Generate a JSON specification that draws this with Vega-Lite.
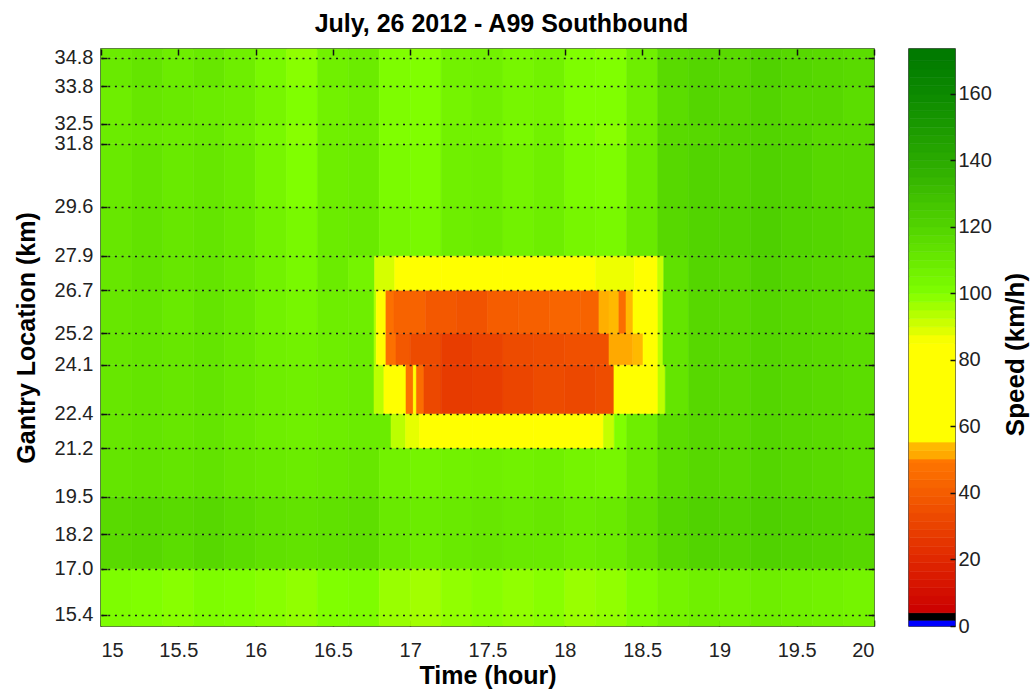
{
  "$schema": "https://vega.github.io/schema/vega-lite/v6.json",
  "padding": {"left": 13, "top": 10, "right": 5, "bottom": 5},
  "background": "white",
  "config": {
    "font": "Liberation Sans",
    "view": {"stroke": "#222222", "strokeWidth": 1.5},
    "axis": {
      "labelFont": "Liberation Sans", "labelFontSize": 20, "labelColor": "#222222",
      "titleFont": "Liberation Sans", "titleFontSize": 25, "titleFontWeight": "bold", "titleColor": "#000000",
      "domain": false, "tickColor": "#111111", "tickWidth": 1.5, "grid": false
    },
    "concat": {"spacing": 31}
  },
  "datasets": {
    "bands": [
      {"b": 1, "lo": 15.0, "hi": 17.0}, {"b": 2, "lo": 17.0, "hi": 18.2}, {"b": 3, "lo": 18.2, "hi": 19.5},
      {"b": 4, "lo": 19.5, "hi": 21.2}, {"b": 5, "lo": 21.2, "hi": 22.4}, {"b": 6, "lo": 22.4, "hi": 24.1},
      {"b": 7, "lo": 24.1, "hi": 25.2}, {"b": 8, "lo": 25.2, "hi": 26.7}, {"b": 9, "lo": 26.7, "hi": 27.9},
      {"b": 10, "lo": 27.9, "hi": 29.6}, {"b": 11, "lo": 29.6, "hi": 31.8}, {"b": 12, "lo": 31.8, "hi": 32.5},
      {"b": 13, "lo": 32.5, "hi": 33.8}, {"b": 14, "lo": 33.8, "hi": 34.8}, {"b": 15, "lo": 34.8, "hi": 35.1}
    ],
    "bar": [
      {"s0": 0, "s1": 1.7, "v": 0.8}, {"s0": 1.7, "s1": 4, "v": 2.8},
      {"s0": 4, "s1": 6.5, "v": 5}, {"s0": 6.5, "s1": 9, "v": 7.5}, {"s0": 9, "s1": 11.5, "v": 10},
      {"s0": 11.5, "s1": 14, "v": 12.5}, {"s0": 14, "s1": 16.5, "v": 15}, {"s0": 16.5, "s1": 19, "v": 17.5},
      {"s0": 19, "s1": 21.5, "v": 20}, {"s0": 21.5, "s1": 24, "v": 22.5}, {"s0": 24, "s1": 26.5, "v": 25},
      {"s0": 26.5, "s1": 29, "v": 27.5}, {"s0": 29, "s1": 31.5, "v": 30}, {"s0": 31.5, "s1": 34, "v": 32.5},
      {"s0": 34, "s1": 36.5, "v": 35}, {"s0": 36.5, "s1": 39, "v": 37.5}, {"s0": 39, "s1": 41.5, "v": 40},
      {"s0": 41.5, "s1": 44, "v": 42.5}, {"s0": 44, "s1": 46.5, "v": 45}, {"s0": 46.5, "s1": 49, "v": 47.5},
      {"s0": 49, "s1": 50.2, "v": 49.8}, {"s0": 50.2, "s1": 52.8, "v": 51}, {"s0": 52.8, "s1": 55.3, "v": 54},
      {"s0": 55.3, "s1": 85, "v": 70}, {"s0": 85, "s1": 87.5, "v": 86}, {"s0": 87.5, "s1": 90, "v": 88.75},
      {"s0": 90, "s1": 92.5, "v": 91.25}, {"s0": 92.5, "s1": 95, "v": 93.75}, {"s0": 95, "s1": 97.5, "v": 96.25},
      {"s0": 97.5, "s1": 100, "v": 98.75}, {"s0": 100, "s1": 102.5, "v": 101.25}, {"s0": 102.5, "s1": 105, "v": 103.75},
      {"s0": 105, "s1": 107.5, "v": 106.25}, {"s0": 107.5, "s1": 110, "v": 108.75}, {"s0": 110, "s1": 112.5, "v": 111.25},
      {"s0": 112.5, "s1": 115, "v": 113.75}, {"s0": 115, "s1": 117.5, "v": 116.25}, {"s0": 117.5, "s1": 120, "v": 118.75},
      {"s0": 120, "s1": 122.5, "v": 121.25}, {"s0": 122.5, "s1": 125, "v": 123.75}, {"s0": 125, "s1": 127.5, "v": 126.25},
      {"s0": 127.5, "s1": 130, "v": 128.75}, {"s0": 130, "s1": 132.5, "v": 131.25}, {"s0": 132.5, "s1": 135, "v": 133.75},
      {"s0": 135, "s1": 137.5, "v": 136.25}, {"s0": 137.5, "s1": 140, "v": 138.75}, {"s0": 140, "s1": 142.5, "v": 141.25},
      {"s0": 142.5, "s1": 145, "v": 143.75}, {"s0": 145, "s1": 147.5, "v": 146.25}, {"s0": 147.5, "s1": 150, "v": 148.75},
      {"s0": 150, "s1": 152.5, "v": 151.25}, {"s0": 152.5, "s1": 155, "v": 153.75}, {"s0": 155, "s1": 157.5, "v": 156.25},
      {"s0": 157.5, "s1": 160, "v": 158.75}, {"s0": 160, "s1": 162.5, "v": 161.25}, {"s0": 162.5, "s1": 165, "v": 163.75},
      {"s0": 165, "s1": 167.5, "v": 166.25}, {"s0": 167.5, "s1": 170, "v": 168.75}, {"s0": 170, "s1": 173.5, "v": 172}
    ],
    "speed": [
      {"b":1,"t":15,"u":15.2,"v":101},{"b":1,"t":15.2,"u":15.4,"v":100},{"b":1,"t":15.4,"u":15.6,"v":99},{"b":1,"t":15.6,"u":15.8,"v":101},{"b":1,"t":15.8,"u":16,"v":100},
      {"b":1,"t":16,"u":16.2,"v":99},{"b":1,"t":16.2,"u":16.4,"v":98},{"b":1,"t":16.4,"u":16.6,"v":100},{"b":1,"t":16.6,"u":16.8,"v":101},{"b":1,"t":16.8,"u":17,"v":97},
      {"b":1,"t":17,"u":17.2,"v":96},{"b":1,"t":17.2,"u":17.4,"v":98},{"b":1,"t":17.4,"u":17.6,"v":99},{"b":1,"t":17.6,"u":17.8,"v":98},{"b":1,"t":17.8,"u":18,"v":99},
      {"b":1,"t":18,"u":18.2,"v":97},{"b":1,"t":18.2,"u":18.4,"v":98},{"b":1,"t":18.4,"u":18.6,"v":101},{"b":1,"t":18.6,"u":18.8,"v":105},{"b":1,"t":18.8,"u":19,"v":107},
      {"b":1,"t":19,"u":19.2,"v":106},{"b":1,"t":19.2,"u":19.4,"v":108},{"b":1,"t":19.4,"u":19.6,"v":107},{"b":1,"t":19.6,"u":19.8,"v":106},{"b":1,"t":19.8,"u":20,"v":105},

      {"b":2,"t":15,"u":15.2,"v":117},{"b":2,"t":15.2,"u":15.4,"v":118},{"b":2,"t":15.4,"u":15.6,"v":116},{"b":2,"t":15.6,"u":15.8,"v":118},{"b":2,"t":15.8,"u":16,"v":116},
      {"b":2,"t":16,"u":16.2,"v":114},{"b":2,"t":16.2,"u":16.4,"v":113},{"b":2,"t":16.4,"u":16.6,"v":114},{"b":2,"t":16.6,"u":16.8,"v":115},{"b":2,"t":16.8,"u":17,"v":110},
      {"b":2,"t":17,"u":17.2,"v":108},{"b":2,"t":17.2,"u":17.4,"v":110},{"b":2,"t":17.4,"u":17.6,"v":111},{"b":2,"t":17.6,"u":17.8,"v":110},{"b":2,"t":17.8,"u":18,"v":110},
      {"b":2,"t":18,"u":18.2,"v":108},{"b":2,"t":18.2,"u":18.4,"v":109},{"b":2,"t":18.4,"u":18.6,"v":113},{"b":2,"t":18.6,"u":18.8,"v":118},{"b":2,"t":18.8,"u":19,"v":120},
      {"b":2,"t":19,"u":19.2,"v":119},{"b":2,"t":19.2,"u":19.4,"v":121},{"b":2,"t":19.4,"u":19.6,"v":120},{"b":2,"t":19.6,"u":19.8,"v":119},{"b":2,"t":19.8,"u":20,"v":118},

      {"b":3,"t":15,"u":15.2,"v":117},{"b":3,"t":15.2,"u":15.4,"v":118},{"b":3,"t":15.4,"u":15.6,"v":117},{"b":3,"t":15.6,"u":15.8,"v":118},{"b":3,"t":15.8,"u":16,"v":116},
      {"b":3,"t":16,"u":16.2,"v":114},{"b":3,"t":16.2,"u":16.4,"v":113},{"b":3,"t":16.4,"u":16.6,"v":114},{"b":3,"t":16.6,"u":16.8,"v":115},{"b":3,"t":16.8,"u":17,"v":110},
      {"b":3,"t":17,"u":17.2,"v":109},{"b":3,"t":17.2,"u":17.4,"v":110},{"b":3,"t":17.4,"u":17.6,"v":111},{"b":3,"t":17.6,"u":17.8,"v":110},{"b":3,"t":17.8,"u":18,"v":111},
      {"b":3,"t":18,"u":18.2,"v":109},{"b":3,"t":18.2,"u":18.4,"v":110},{"b":3,"t":18.4,"u":18.6,"v":114},{"b":3,"t":18.6,"u":18.8,"v":119},{"b":3,"t":18.8,"u":19,"v":121},
      {"b":3,"t":19,"u":19.2,"v":120},{"b":3,"t":19.2,"u":19.4,"v":122},{"b":3,"t":19.4,"u":19.6,"v":121},{"b":3,"t":19.6,"u":19.8,"v":120},{"b":3,"t":19.8,"u":20,"v":119},

      {"b":4,"t":15,"u":15.2,"v":112},{"b":4,"t":15.2,"u":15.4,"v":113},{"b":4,"t":15.4,"u":15.6,"v":112},{"b":4,"t":15.6,"u":15.8,"v":113},{"b":4,"t":15.8,"u":16,"v":111},
      {"b":4,"t":16,"u":16.2,"v":110},{"b":4,"t":16.2,"u":16.4,"v":109},{"b":4,"t":16.4,"u":16.6,"v":110},{"b":4,"t":16.6,"u":16.8,"v":111},{"b":4,"t":16.8,"u":17,"v":106},
      {"b":4,"t":17,"u":17.2,"v":105},{"b":4,"t":17.2,"u":17.4,"v":106},{"b":4,"t":17.4,"u":17.6,"v":107},{"b":4,"t":17.6,"u":17.8,"v":106},{"b":4,"t":17.8,"u":18,"v":107},
      {"b":4,"t":18,"u":18.2,"v":105},{"b":4,"t":18.2,"u":18.4,"v":104},{"b":4,"t":18.4,"u":18.6,"v":110},{"b":4,"t":18.6,"u":18.8,"v":116},{"b":4,"t":18.8,"u":19,"v":118},
      {"b":4,"t":19,"u":19.2,"v":117},{"b":4,"t":19.2,"u":19.4,"v":119},{"b":4,"t":19.4,"u":19.6,"v":118},{"b":4,"t":19.6,"u":19.8,"v":117},{"b":4,"t":19.8,"u":20,"v":116},

      {"b":5,"t":15,"u":15.2,"v":111},{"b":5,"t":15.2,"u":15.4,"v":112},{"b":5,"t":15.4,"u":15.6,"v":111},{"b":5,"t":15.6,"u":15.8,"v":112},{"b":5,"t":15.8,"u":16,"v":110},
      {"b":5,"t":16,"u":16.2,"v":108},{"b":5,"t":16.2,"u":16.4,"v":107},{"b":5,"t":16.4,"u":16.6,"v":108},{"b":5,"t":16.6,"u":16.876,"v":109},{"b":5,"t":16.876,"u":16.97,"v":93},
      {"b":5,"t":16.97,"u":17.06,"v":88},{"b":5,"t":17.06,"u":17.4,"v":72},{"b":5,"t":17.4,"u":17.8,"v":70},{"b":5,"t":17.8,"u":18.25,"v":72},{"b":5,"t":18.25,"u":18.32,"v":92},
      {"b":5,"t":18.32,"u":18.4,"v":100},{"b":5,"t":18.4,"u":18.6,"v":108},{"b":5,"t":18.6,"u":18.8,"v":116},{"b":5,"t":18.8,"u":19,"v":118},{"b":5,"t":19,"u":19.2,"v":117},
      {"b":5,"t":19.2,"u":19.4,"v":119},{"b":5,"t":19.4,"u":19.6,"v":118},{"b":5,"t":19.6,"u":19.8,"v":117},{"b":5,"t":19.8,"u":20,"v":116},

      {"b":6,"t":15,"u":15.2,"v":111},{"b":6,"t":15.2,"u":15.4,"v":112},{"b":6,"t":15.4,"u":15.6,"v":111},{"b":6,"t":15.6,"u":15.8,"v":112},{"b":6,"t":15.8,"u":16,"v":110},
      {"b":6,"t":16,"u":16.2,"v":108},{"b":6,"t":16.2,"u":16.4,"v":107},{"b":6,"t":16.4,"u":16.6,"v":108},{"b":6,"t":16.6,"u":16.766,"v":109},{"b":6,"t":16.766,"u":16.83,"v":93},
      {"b":6,"t":16.83,"u":16.973,"v":72},{"b":6,"t":16.973,"u":17.02,"v":47},{"b":6,"t":17.02,"u":17.04,"v":60},{"b":6,"t":17.04,"u":17.089,"v":46},{"b":6,"t":17.089,"u":17.2,"v":32},
      {"b":6,"t":17.2,"u":17.4,"v":27},{"b":6,"t":17.4,"u":17.6,"v":28},{"b":6,"t":17.6,"u":17.8,"v":31},{"b":6,"t":17.8,"u":18,"v":33},{"b":6,"t":18,"u":18.2,"v":32},
      {"b":6,"t":18.2,"u":18.318,"v":34},{"b":6,"t":18.318,"u":18.603,"v":72},{"b":6,"t":18.603,"u":18.65,"v":93},{"b":6,"t":18.65,"u":18.8,"v":112},{"b":6,"t":18.8,"u":19,"v":118},
      {"b":6,"t":19,"u":19.2,"v":117},{"b":6,"t":19.2,"u":19.4,"v":119},{"b":6,"t":19.4,"u":19.6,"v":118},{"b":6,"t":19.6,"u":19.8,"v":117},{"b":6,"t":19.8,"u":20,"v":116},

      {"b":7,"t":15,"u":15.2,"v":111},{"b":7,"t":15.2,"u":15.4,"v":112},{"b":7,"t":15.4,"u":15.6,"v":111},{"b":7,"t":15.6,"u":15.8,"v":112},{"b":7,"t":15.8,"u":16,"v":110},
      {"b":7,"t":16,"u":16.2,"v":107},{"b":7,"t":16.2,"u":16.4,"v":106},{"b":7,"t":16.4,"u":16.6,"v":108},{"b":7,"t":16.6,"u":16.766,"v":109},{"b":7,"t":16.766,"u":16.78,"v":95},
      {"b":7,"t":16.78,"u":16.843,"v":72},{"b":7,"t":16.843,"u":16.908,"v":47},{"b":7,"t":16.908,"u":17,"v":38},{"b":7,"t":17,"u":17.2,"v":33},{"b":7,"t":17.2,"u":17.4,"v":28},
      {"b":7,"t":17.4,"u":17.6,"v":30},{"b":7,"t":17.6,"u":17.8,"v":33},{"b":7,"t":17.8,"u":18,"v":34},{"b":7,"t":18,"u":18.286,"v":35},{"b":7,"t":18.286,"u":18.44,"v":51},
      {"b":7,"t":18.44,"u":18.506,"v":54},{"b":7,"t":18.506,"u":18.603,"v":72},{"b":7,"t":18.603,"u":18.635,"v":93},{"b":7,"t":18.635,"u":18.8,"v":112},{"b":7,"t":18.8,"u":19,"v":118},
      {"b":7,"t":19,"u":19.2,"v":117},{"b":7,"t":19.2,"u":19.4,"v":119},{"b":7,"t":19.4,"u":19.6,"v":118},{"b":7,"t":19.6,"u":19.8,"v":117},{"b":7,"t":19.8,"u":20,"v":116},

      {"b":8,"t":15,"u":15.2,"v":111},{"b":8,"t":15.2,"u":15.4,"v":112},{"b":8,"t":15.4,"u":15.6,"v":110},{"b":8,"t":15.6,"u":15.8,"v":112},{"b":8,"t":15.8,"u":16,"v":110},
      {"b":8,"t":16,"u":16.2,"v":106},{"b":8,"t":16.2,"u":16.4,"v":104},{"b":8,"t":16.4,"u":16.6,"v":108},{"b":8,"t":16.6,"u":16.766,"v":108},{"b":8,"t":16.766,"u":16.78,"v":95},
      {"b":8,"t":16.78,"u":16.843,"v":72},{"b":8,"t":16.843,"u":16.895,"v":47},{"b":8,"t":16.895,"u":17.1,"v":42},{"b":8,"t":17.1,"u":17.3,"v":38},{"b":8,"t":17.3,"u":17.5,"v":36},
      {"b":8,"t":17.5,"u":17.7,"v":40},{"b":8,"t":17.7,"u":17.9,"v":41},{"b":8,"t":17.9,"u":18.1,"v":43},{"b":8,"t":18.1,"u":18.221,"v":42},{"b":8,"t":18.221,"u":18.286,"v":52},
      {"b":8,"t":18.286,"u":18.35,"v":54},{"b":8,"t":18.35,"u":18.396,"v":46},{"b":8,"t":18.396,"u":18.441,"v":54},{"b":8,"t":18.441,"u":18.603,"v":72},{"b":8,"t":18.603,"u":18.635,"v":93},
      {"b":8,"t":18.635,"u":18.8,"v":112},{"b":8,"t":18.8,"u":19,"v":118},{"b":8,"t":19,"u":19.2,"v":117},{"b":8,"t":19.2,"u":19.4,"v":119},{"b":8,"t":19.4,"u":19.6,"v":118},
      {"b":8,"t":19.6,"u":19.8,"v":117},{"b":8,"t":19.8,"u":20,"v":116},

      {"b":9,"t":15,"u":15.2,"v":111},{"b":9,"t":15.2,"u":15.4,"v":113},{"b":9,"t":15.4,"u":15.6,"v":111},{"b":9,"t":15.6,"u":15.8,"v":112},{"b":9,"t":15.8,"u":16,"v":110},
      {"b":9,"t":16,"u":16.2,"v":106},{"b":9,"t":16.2,"u":16.4,"v":103},{"b":9,"t":16.4,"u":16.6,"v":109},{"b":9,"t":16.6,"u":16.77,"v":105},{"b":9,"t":16.77,"u":16.9,"v":90},
      {"b":9,"t":16.9,"u":17.2,"v":74},{"b":9,"t":17.2,"u":17.6,"v":72},{"b":9,"t":17.6,"u":18.2,"v":74},{"b":9,"t":18.2,"u":18.45,"v":87},{"b":9,"t":18.45,"u":18.6,"v":74},
      {"b":9,"t":18.6,"u":18.64,"v":92},{"b":9,"t":18.64,"u":18.8,"v":114},{"b":9,"t":18.8,"u":19,"v":119},{"b":9,"t":19,"u":19.2,"v":118},{"b":9,"t":19.2,"u":19.4,"v":121},
      {"b":9,"t":19.4,"u":19.6,"v":119},{"b":9,"t":19.6,"u":19.8,"v":118},{"b":9,"t":19.8,"u":20,"v":117},

      {"b":10,"t":15,"u":15.2,"v":111},{"b":10,"t":15.2,"u":15.4,"v":113},{"b":10,"t":15.4,"u":15.6,"v":111},{"b":10,"t":15.6,"u":15.8,"v":112},{"b":10,"t":15.8,"u":16,"v":110},
      {"b":10,"t":16,"u":16.2,"v":106},{"b":10,"t":16.2,"u":16.4,"v":103},{"b":10,"t":16.4,"u":16.6,"v":109},{"b":10,"t":16.6,"u":16.8,"v":110},{"b":10,"t":16.8,"u":17,"v":104},
      {"b":10,"t":17,"u":17.2,"v":103},{"b":10,"t":17.2,"u":17.4,"v":108},{"b":10,"t":17.4,"u":17.6,"v":109},{"b":10,"t":17.6,"u":17.8,"v":106},{"b":10,"t":17.8,"u":18,"v":108},
      {"b":10,"t":18,"u":18.2,"v":104},{"b":10,"t":18.2,"u":18.4,"v":103},{"b":10,"t":18.4,"u":18.6,"v":110},{"b":10,"t":18.6,"u":18.8,"v":118},{"b":10,"t":18.8,"u":19,"v":120},
      {"b":10,"t":19,"u":19.2,"v":120},{"b":10,"t":19.2,"u":19.4,"v":122},{"b":10,"t":19.4,"u":19.6,"v":120},{"b":10,"t":19.6,"u":19.8,"v":119},{"b":10,"t":19.8,"u":20,"v":118},

      {"b":11,"t":15,"u":15.2,"v":110},{"b":11,"t":15.2,"u":15.4,"v":112},{"b":11,"t":15.4,"u":15.6,"v":110},{"b":11,"t":15.6,"u":15.8,"v":111},{"b":11,"t":15.8,"u":16,"v":109},
      {"b":11,"t":16,"u":16.2,"v":104},{"b":11,"t":16.2,"u":16.4,"v":100},{"b":11,"t":16.4,"u":16.6,"v":108},{"b":11,"t":16.6,"u":16.8,"v":109},{"b":11,"t":16.8,"u":17,"v":102},
      {"b":11,"t":17,"u":17.2,"v":101},{"b":11,"t":17.2,"u":17.4,"v":107},{"b":11,"t":17.4,"u":17.6,"v":108},{"b":11,"t":17.6,"u":17.8,"v":105},{"b":11,"t":17.8,"u":18,"v":107},
      {"b":11,"t":18,"u":18.2,"v":102},{"b":11,"t":18.2,"u":18.4,"v":101},{"b":11,"t":18.4,"u":18.6,"v":109},{"b":11,"t":18.6,"u":18.8,"v":118},{"b":11,"t":18.8,"u":19,"v":120},
      {"b":11,"t":19,"u":19.2,"v":119},{"b":11,"t":19.2,"u":19.4,"v":121},{"b":11,"t":19.4,"u":19.6,"v":120},{"b":11,"t":19.6,"u":19.8,"v":118},{"b":11,"t":19.8,"u":20,"v":118},

      {"b":12,"t":15,"u":15.2,"v":109},{"b":12,"t":15.2,"u":15.4,"v":110},{"b":12,"t":15.4,"u":15.6,"v":109},{"b":12,"t":15.6,"u":15.8,"v":110},{"b":12,"t":15.8,"u":16,"v":107},
      {"b":12,"t":16,"u":16.2,"v":103},{"b":12,"t":16.2,"u":16.4,"v":99},{"b":12,"t":16.4,"u":16.6,"v":107},{"b":12,"t":16.6,"u":16.8,"v":108},{"b":12,"t":16.8,"u":17,"v":100},
      {"b":12,"t":17,"u":17.2,"v":100},{"b":12,"t":17.2,"u":17.4,"v":106},{"b":12,"t":17.4,"u":17.6,"v":106},{"b":12,"t":17.6,"u":17.8,"v":103},{"b":12,"t":17.8,"u":18,"v":106},
      {"b":12,"t":18,"u":18.2,"v":101},{"b":12,"t":18.2,"u":18.4,"v":99},{"b":12,"t":18.4,"u":18.6,"v":108},{"b":12,"t":18.6,"u":18.8,"v":117},{"b":12,"t":18.8,"u":19,"v":118},
      {"b":12,"t":19,"u":19.2,"v":119},{"b":12,"t":19.2,"u":19.4,"v":120},{"b":12,"t":19.4,"u":19.6,"v":119},{"b":12,"t":19.6,"u":19.8,"v":117},{"b":12,"t":19.8,"u":20,"v":117},

      {"b":13,"t":15,"u":15.2,"v":108},{"b":13,"t":15.2,"u":15.4,"v":111},{"b":13,"t":15.4,"u":15.6,"v":110},{"b":13,"t":15.6,"u":15.8,"v":109},{"b":13,"t":15.8,"u":16,"v":108},
      {"b":13,"t":16,"u":16.2,"v":104},{"b":13,"t":16.2,"u":16.4,"v":100},{"b":13,"t":16.4,"u":16.6,"v":106},{"b":13,"t":16.6,"u":16.8,"v":108},{"b":13,"t":16.8,"u":17,"v":101},
      {"b":13,"t":17,"u":17.2,"v":100},{"b":13,"t":17.2,"u":17.4,"v":105},{"b":13,"t":17.4,"u":17.6,"v":107},{"b":13,"t":17.6,"u":17.8,"v":104},{"b":13,"t":17.8,"u":18,"v":105},
      {"b":13,"t":18,"u":18.2,"v":100},{"b":13,"t":18.2,"u":18.4,"v":100},{"b":13,"t":18.4,"u":18.6,"v":107},{"b":13,"t":18.6,"u":18.8,"v":116},{"b":13,"t":18.8,"u":19,"v":119},
      {"b":13,"t":19,"u":19.2,"v":118},{"b":13,"t":19.2,"u":19.4,"v":120},{"b":13,"t":19.4,"u":19.6,"v":118},{"b":13,"t":19.6,"u":19.8,"v":118},{"b":13,"t":19.8,"u":20,"v":116},

      {"b":14,"t":15,"u":15.2,"v":110},{"b":14,"t":15.2,"u":15.4,"v":112},{"b":14,"t":15.4,"u":15.6,"v":109},{"b":14,"t":15.6,"u":15.8,"v":111},{"b":14,"t":15.8,"u":16,"v":108},
      {"b":14,"t":16,"u":16.2,"v":103},{"b":14,"t":16.2,"u":16.4,"v":99},{"b":14,"t":16.4,"u":16.6,"v":107},{"b":14,"t":16.6,"u":16.8,"v":109},{"b":14,"t":16.8,"u":17,"v":101},
      {"b":14,"t":17,"u":17.2,"v":100},{"b":14,"t":17.2,"u":17.4,"v":106},{"b":14,"t":17.4,"u":17.6,"v":107},{"b":14,"t":17.6,"u":17.8,"v":104},{"b":14,"t":17.8,"u":18,"v":106},
      {"b":14,"t":18,"u":18.2,"v":101},{"b":14,"t":18.2,"u":18.4,"v":100},{"b":14,"t":18.4,"u":18.6,"v":108},{"b":14,"t":18.6,"u":18.8,"v":117},{"b":14,"t":18.8,"u":19,"v":119},
      {"b":14,"t":19,"u":19.2,"v":118},{"b":14,"t":19.2,"u":19.4,"v":121},{"b":14,"t":19.4,"u":19.6,"v":119},{"b":14,"t":19.6,"u":19.8,"v":118},{"b":14,"t":19.8,"u":20,"v":117},

      {"b":15,"t":15,"u":15.2,"v":109},{"b":15,"t":15.2,"u":15.4,"v":111},{"b":15,"t":15.4,"u":15.6,"v":108},{"b":15,"t":15.6,"u":15.8,"v":110},{"b":15,"t":15.8,"u":16,"v":107},
      {"b":15,"t":16,"u":16.2,"v":102},{"b":15,"t":16.2,"u":16.4,"v":98},{"b":15,"t":16.4,"u":16.6,"v":106},{"b":15,"t":16.6,"u":16.8,"v":108},{"b":15,"t":16.8,"u":17,"v":100},
      {"b":15,"t":17,"u":17.2,"v":99},{"b":15,"t":17.2,"u":17.4,"v":105},{"b":15,"t":17.4,"u":17.6,"v":106},{"b":15,"t":17.6,"u":17.8,"v":103},{"b":15,"t":17.8,"u":18,"v":105},
      {"b":15,"t":18,"u":18.2,"v":100},{"b":15,"t":18.2,"u":18.4,"v":99},{"b":15,"t":18.4,"u":18.6,"v":107},{"b":15,"t":18.6,"u":18.8,"v":116},{"b":15,"t":18.8,"u":19,"v":118},
      {"b":15,"t":19,"u":19.2,"v":117},{"b":15,"t":19.2,"u":19.4,"v":120},{"b":15,"t":19.4,"u":19.6,"v":118},{"b":15,"t":19.6,"u":19.8,"v":117},{"b":15,"t":19.8,"u":20,"v":116}
    ]
  },
  "hconcat": [
    {
      "width": 773,
      "height": 577,
      "title": {"text": "July, 26 2012 - A99 Southbound", "font": "Liberation Sans", "fontSize": 25, "fontWeight": "bold", "color": "#000000", "anchor": "middle", "offset": 11, "dx": 14},
      "data": {"name": "speed"},
      "transform": [
        {"lookup": "b", "from": {"data": {"name": "bands"}, "key": "b", "fields": ["lo", "hi"]}}
      ],
      "layer": [
        {
          "mark": {"type": "rect", "strokeWidth": 0.6},
          "encoding": {
            "x": {"field": "t", "type": "quantitative",
                  "scale": {"domain": [15, 20], "nice": false, "zero": false},
                  "axis": {"orient": "bottom", "values": [15, 15.5, 16, 16.5, 17, 17.5, 18, 18.5, 19, 19.5, 20], "format": "~g",
                           "title": "Time (hour)", "tickSize": -6, "labelPadding": 20, "titlePadding": 3}},
            "x2": {"field": "u"},
            "y": {"field": "lo", "type": "quantitative",
                  "scale": {"domain": [15, 35.1], "nice": false, "zero": false},
                  "axis": {"orient": "left", "values": [15.4, 17.0, 18.2, 19.5, 21.2, 22.4, 24.1, 25.2, 26.7, 27.9, 29.6, 31.8, 32.5, 33.8, 34.8],
                           "format": ".1f", "title": "Gantry Location (km)", "tickSize": -6, "labelPadding": 14, "titlePadding": 15,
                           "grid": true, "gridColor": "#1a1a1a", "gridDash": [2, 4.7], "gridWidth": 1.6, "zindex": 1}},
            "y2": {"field": "hi"},
            "color": {"field": "v", "type": "quantitative", "legend": null,
                      "scale": {"type": "linear", "interpolate": "rgb",
                                "domain": [0, 1.7, 1.71, 4.0, 4.01, 20, 50, 50.2, 55.3, 55.31, 85, 100, 120, 140, 160, 173.5],
                                "range": ["#0000ff", "#0000ff", "#000000", "#000000", "#cc0000", "#e02800", "#ff7800", "#ffa500", "#ffc000", "#ffff00", "#ffff00", "#80ff00", "#52d400", "#2aaa00", "#0c8a00", "#007800"]}},
            "stroke": {"field": "v", "type": "quantitative", "legend": null,
                      "scale": {"type": "linear", "interpolate": "rgb",
                                "domain": [0, 1.7, 1.71, 4.0, 4.01, 20, 50, 50.2, 55.3, 55.31, 85, 100, 120, 140, 160, 173.5],
                                "range": ["#0000ff", "#0000ff", "#000000", "#000000", "#cc0000", "#e02800", "#ff7800", "#ffa500", "#ffc000", "#ffff00", "#ffff00", "#80ff00", "#52d400", "#2aaa00", "#0c8a00", "#007800"]}}
          }
        },
        {
          "mark": {"type": "rect", "opacity": 0},
          "encoding": {
            "x": {"field": "t", "type": "quantitative",
                  "axis": {"orient": "top", "values": [15, 15.5, 16, 16.5, 17, 17.5, 18, 18.5, 19, 19.5, 20],
                           "labels": false, "title": null, "tickSize": -6, "zindex": 1}},
            "x2": {"field": "u"},
            "y": {"field": "lo", "type": "quantitative",
                  "axis": {"orient": "right", "values": [15.4, 17.0, 18.2, 19.5, 21.2, 22.4, 24.1, 25.2, 26.7, 27.9, 29.6, 31.8, 32.5, 33.8, 34.8],
                           "labels": false, "title": null, "tickSize": -6, "zindex": 1}},
            "y2": {"field": "hi"}
          }
        }
      ],
      "resolve": {"axis": {"x": "independent", "y": "independent"}}
    },
    {
      "width": 46,
      "height": 577,
      "data": {"name": "bar"},
      "mark": {"type": "rect", "strokeWidth": 0.6},
      "encoding": {
        "y": {"field": "s0", "type": "quantitative",
              "scale": {"domain": [0, 173.5], "nice": false, "zero": false},
              "axis": {"orient": "right", "values": [0, 20, 40, 60, 80, 100, 120, 140, 160],
                       "title": "Speed (km/h)", "titleAngle": 270, "titleFontSize": 26, "titleY": 305,
                       "tickSize": -5, "labelPadding": 8, "titlePadding": 37, "zindex": 1}},
        "y2": {"field": "s1"},
        "color": {"field": "v", "type": "quantitative", "legend": null,
                  "scale": {"type": "linear", "interpolate": "rgb",
                            "domain": [0, 1.7, 1.71, 4.0, 4.01, 20, 50, 50.2, 55.3, 55.31, 85, 100, 120, 140, 160, 173.5],
                            "range": ["#0000ff", "#0000ff", "#000000", "#000000", "#cc0000", "#e02800", "#ff7800", "#ffa500", "#ffc000", "#ffff00", "#ffff00", "#80ff00", "#52d400", "#2aaa00", "#0c8a00", "#007800"]}},
        "stroke": {"field": "v", "type": "quantitative", "legend": null,
                   "scale": {"type": "linear", "interpolate": "rgb",
                             "domain": [0, 1.7, 1.71, 4.0, 4.01, 20, 50, 50.2, 55.3, 55.31, 85, 100, 120, 140, 160, 173.5],
                             "range": ["#0000ff", "#0000ff", "#000000", "#000000", "#cc0000", "#e02800", "#ff7800", "#ffa500", "#ffc000", "#ffff00", "#ffff00", "#80ff00", "#52d400", "#2aaa00", "#0c8a00", "#007800"]}}
      }
    }
  ],
  "resolve": {"scale": {"x": "independent", "y": "independent", "color": "shared", "stroke": "shared"}}
}
